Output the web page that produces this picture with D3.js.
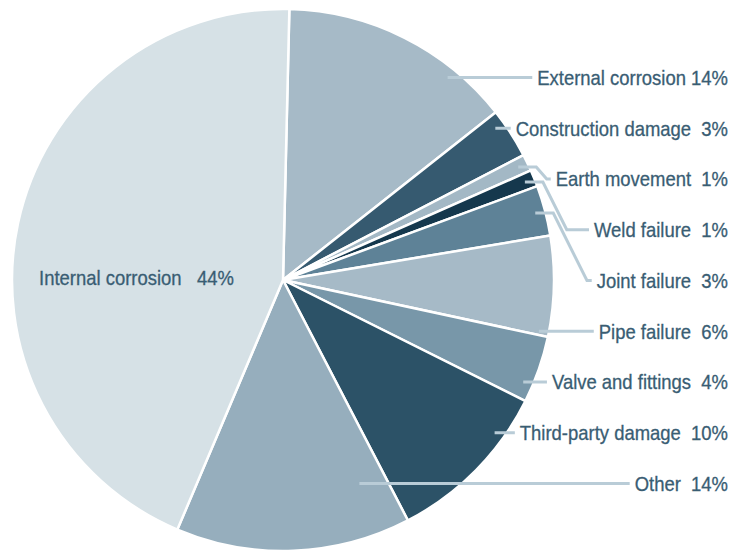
<!DOCTYPE html>
<html>
<head>
<meta charset="utf-8">
<script src="https://cdn.jsdelivr.net/npm/d3@7"></script>
<style>
  html, body { margin: 0; padding: 0; background: #ffffff; }
  svg { display: block; }
  text { font-family: "Liberation Sans", Arial, sans-serif; white-space: pre; }
</style>
</head>
<body>
<svg id="chart" width="734" height="552"></svg>
<script>
// Causes of pipeline failure, share of incidents (%), clockwise from the top
const categories = [
  "External corrosion", "Construction damage", "Earth movement", "Weld failure",
  "Joint failure", "Pipe failure", "Valve and fittings", "Third-party damage",
  "Other", "Internal corrosion"
];
const shares = [14, 3, 1, 1, 3, 6, 4, 10, 14, 44];
const sliceColors = [
  "#a6bac7", "#365a70", "#a3b8c5", "#15384d", "#5e8297",
  "#a6bac7", "#7897a9", "#2c5267", "#96aebd", "#d6e1e6"
];
// spaces between a cause and its percentage in each label
const gapSpaces = [1, 2, 2, 2, 2, 2, 2, 2, 2, 3];

const labelText = categories.map((c, i) => c + " ".repeat(gapSpaces[i]) + shares[i] + "%");

const svg = d3.select("#chart");
const cx = 283, cy = 280, R = 271;
const startOffset = 0.0235;
const textColor = "#395d73";
const leaderColor = "#b9ccd7";
const fontSize = 20.5;
const squeeze = 0.9;
const labelRight = 728;

const pie = d3.pie().sort(null).value(d => d)
  .startAngle(startOffset).endAngle(startOffset + 2 * Math.PI);
const arcs = pie(shares);
const arc = d3.arc().innerRadius(0).outerRadius(R);

const g = svg.append("g").attr("transform", `translate(${cx},${cy})`);
g.selectAll("path.slice")
  .data(arcs)
  .join("path")
  .attr("class", "slice")
  .attr("d", arc)
  .attr("fill", (d, i) => sliceColors[i])
  .attr("stroke", "#ffffff")
  .attr("stroke-width", 2.5)
  .attr("stroke-linejoin", "round");

// outside labels for every slice except the largest one, stacked on the right
const outside = categories.slice(0, 9);
const yScale = d3.scalePoint().domain(outside).range([77.5, 483.5]);

const labels = svg.append("g");
const widths = [];
outside.forEach((c, i) => {
  const t = labels.append("g")
    .attr("transform", `translate(${labelRight},${yScale(c)}) scale(${squeeze},1)`)
    .append("text")
    .attr("text-anchor", "end")
    .attr("dy", "0.36em")
    .attr("font-size", fontSize)
    .attr("fill", textColor)
    .attr("stroke", textColor)
    .attr("stroke-width", 0.3)
    .text(labelText[i]);
  widths.push(t.node().getComputedTextLength() * squeeze);
});

// leader lines from inside each slice to its label
const rA = R * 0.963;
const leaderPaths = outside.map((c, i) => {
  const d = arcs[i];
  const y = yScale(c);
  const dy = y - cy;
  const textStart = labelRight - widths[i];
  const endX = textStart - 5;
  const cosT = Math.max(-1, Math.min(1, -dy / rA));
  const theta = Math.acos(cosT);
  if (theta <= d.endAngle) {
    let ax;
    if (theta >= d.startAngle) {
      ax = cx + rA * Math.sin(theta);
    } else {
      const tc = d.startAngle + 0.12;
      ax = cx + dy * Math.tan(Math.PI - tc);
    }
    return [[ax, y], [endX, y]];
  }
  const mid = (d.startAngle + d.endAngle) / 2;
  const ax = cx + rA * Math.sin(mid), ay = cy - rA * Math.cos(mid);
  const ex = ax + 18;
  const dx = Math.min(Math.max(12, 0.5 * (y - ay)), endX - 4 - ex);
  return [[ax, ay], [ex, ay], [ex + dx, y], [endX, y]];
});

svg.append("g")
  .selectAll("path")
  .data(leaderPaths)
  .join("path")
  .attr("d", d3.line())
  .attr("fill", "none")
  .attr("stroke", leaderColor)
  .attr("stroke-width", 3)
  .attr("stroke-linejoin", "miter");

// keep labels above the leader lines
labels.raise();

// label for the largest slice sits inside it
svg.append("g")
  .attr("transform", `translate(${cx - R + 27},${cy - 2}) scale(${squeeze},1)`)
  .append("text")
  .attr("dy", "0.36em")
  .attr("font-size", fontSize)
  .attr("fill", textColor)
  .attr("stroke", textColor)
  .attr("stroke-width", 0.3)
  .text(labelText[9]);
</script>
</body>
</html>
